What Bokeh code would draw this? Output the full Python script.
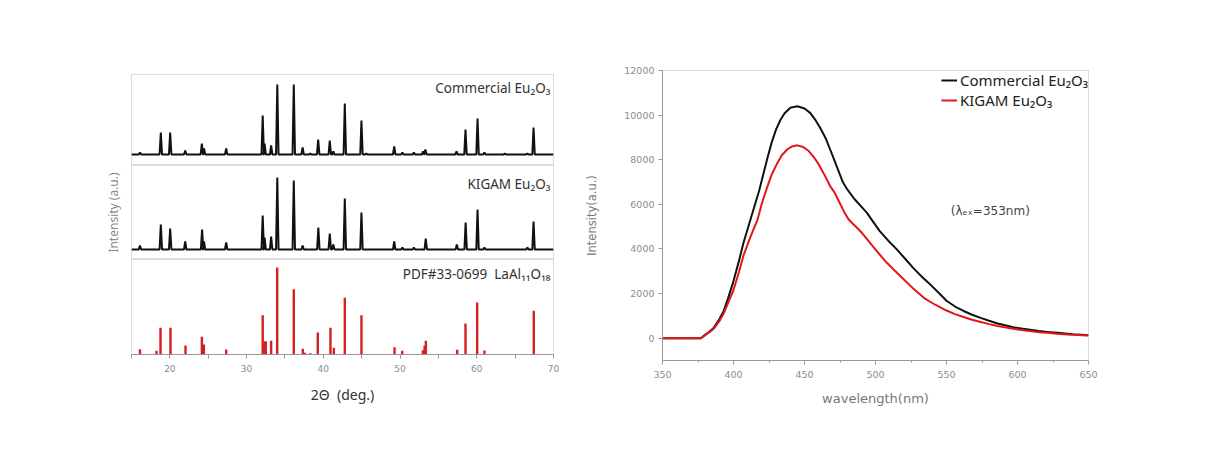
from bokeh.plotting import figure
from bokeh.layouts import row, column
from bokeh.models import Range1d, FixedTicker, Label, Legend, LegendItem
from bokeh.embed import file_html
from bokeh.resources import INLINE

# ---------------- XRD data (2theta, relative intensity) ----------------
comm_pos = [16.1, 18.82, 20.04, 22.0, 24.17, 24.45, 27.34, 32.1, 32.35, 33.2, 34.0, 36.15,
            37.3, 38.3, 39.33, 40.84, 41.3, 42.8, 44.97, 45.6, 49.24, 50.3, 51.8, 53.0,
            53.3, 57.36, 58.53, 60.1, 61.0, 63.65, 66.6, 67.4]
comm_int = [2, 22, 22, 4, 11, 6, 6, 39, 11, 9, 70, 70,
            7, 1, 15, 14, 3, 51, 34, 1, 8, 2, 2, 3,
            5, 3, 25, 36, 2, 1, 1, 27]

kigam_pos = [16.1, 18.82, 20.04, 22.0, 24.2, 24.45, 27.34, 32.1, 32.35, 33.2, 34.0, 36.15,
             37.3, 39.35, 40.84, 41.3, 42.8, 44.97, 49.24, 50.3, 51.8, 53.35, 57.4,
             58.55, 60.1, 61.0, 66.6, 67.4]
kigam_int = [4, 25, 21, 8, 20, 8, 7, 34, 12, 13, 72, 69,
             4, 22, 16, 5, 51, 37, 8, 2, 2, 11, 5,
             27, 40, 2, 2, 28]

pdf_pos = [16.1, 18.26, 18.78, 20.08, 22.04, 24.17, 24.43, 27.34, 32.1, 32.33, 32.5, 33.2,
           33.99, 36.15, 37.33, 37.6, 38.3, 39.28, 40.93, 41.37, 42.8, 44.97, 49.28, 50.28,
           52.97, 53.2, 53.36, 57.45, 58.53, 60.05, 61.0, 67.43]
pdf_int = [5.3, 3.7, 26.7, 26.7, 9, 17.7, 10, 5, 39.3, 13.3, 13, 13.7,
           87, 65.3, 5.7, 1.7, 1.3, 22, 26.7, 6.7, 56.7, 39.3, 7.3, 3.7,
           4.3, 8.7, 13.7, 4.7, 31, 52, 4, 43.7]

xrd_ticks = [20, 30, 40, 50, 60, 70]

# ---------------- PL data (wavelength nm, intensity a.u.) ----------------
wl_comm = [350, 377, 380, 383, 386, 390, 393, 396, 400, 404, 407, 412, 418, 421, 424, 427,
           430, 433, 436, 440, 445, 450, 454, 458, 461, 465, 468, 471, 474, 477, 480, 485,
           490, 494, 498, 503, 509, 515, 521, 527, 533, 539, 545, 550, 556, 562, 568, 574,
           580, 586, 592, 597, 604, 610, 615, 621, 628, 635, 642, 650]
pl_comm = [0, 0, 150, 290, 460, 850, 1210, 1750, 2560, 3500, 4270, 5330, 6600, 7350, 8100,
           8800, 9360, 9780, 10080, 10330, 10400, 10300, 10100, 9750, 9430, 8950, 8470,
           7980, 7490, 7000, 6680, 6250, 5900, 5620, 5250, 4800, 4370, 3980, 3550, 3120,
           2730, 2380, 2000, 1680, 1420, 1220, 1050, 910, 780, 660, 570, 490, 420, 370,
           320, 280, 240, 200, 160, 130]

wl_kigam = [350, 377, 380, 383, 386, 390, 393, 396, 400, 404, 407, 412, 417, 420, 424, 427,
            431, 434, 438, 441, 445, 449, 453, 457, 460, 464, 468, 471, 475, 478, 481, 484,
            487, 491, 496, 502, 508, 514, 520, 527, 534, 542, 550, 556, 562, 568, 574, 580,
            586, 592, 597, 604, 610, 615, 621, 628, 635, 642, 650]
pl_kigam = [0, 0, 140, 270, 420, 760, 1100, 1550, 2160, 3000, 3700, 4550, 5330, 6050, 6820,
            7350, 7870, 8200, 8470, 8590, 8645, 8570, 8390, 8080, 7790, 7330, 6820, 6550,
            6040, 5650, 5330, 5130, 4950, 4680, 4280, 3820, 3380, 3000, 2630, 2200, 1810,
            1500, 1240, 1080, 950, 830, 730, 630, 550, 480, 420, 360, 310, 270, 240, 200,
            170, 145, 120]

pl_xticks = [350, 400, 450, 500, 550, 600, 650]
pl_yticks = [0, 2000, 4000, 6000, 8000, 10000, 12000]


def profile(pos, inten, hw=0.16):
    pts = sorted(zip(pos, inten))
    xs, ys = [15.0], [0.0]
    for p_, h_ in pts:
        xs += [p_ - hw, p_, p_ + hw]
        ys += [0, h_, 0]
    xs.append(70.0)
    ys.append(0.0)
    return xs, ys


FONT = "Noto Sans"
OUT_C = "#b8b8b8"
AX_C = "#999999"
TICK_LAB_C = "#8c8c8c"
NB = "\u00a0"

xr = Range1d(15, 70)


def base_fig(height, yr, bl, bb, bt):
    f = figure(width=568, height=height, x_range=xr, y_range=yr,
               output_backend="svg", toolbar_location=None,
               min_border_left=bl, min_border_right=15,
               min_border_bottom=bb, min_border_top=bt)
    f.grid.visible = False
    f.outline_line_color = OUT_C
    f.outline_line_dash = "1 1"
    f.background_fill_color = "white"
    f.border_fill_color = "white"
    return f


# top panel
p1 = base_fig(165, Range1d(-11, 80), 131, 0, 74)
x1, y1 = profile(comm_pos, comm_int)
p1.line(x1, y1, line_color="#111111", line_width=2)
p1.xaxis.visible = False
p1.yaxis.visible = False
p1.add_layout(Label(x=69.6, y=67, text="Commercial Eu\u2082O\u2083", text_align="right",
                    text_baseline="middle", text_font=FONT, text_font_size="13.5px",
                    text_color="#333333"))

# middle panel
p2 = base_fig(94, Range1d(-10, 84), 131, 0, 0)
x2, y2 = profile(kigam_pos, kigam_int)
p2.line(x2, y2, line_color="#111111", line_width=2)
p2.xaxis.visible = False
p2.yaxis.ticker = FixedTicker(ticks=[])
p2.yaxis.axis_line_color = None
p2.yaxis.major_tick_line_color = None
p2.yaxis.minor_tick_line_color = None
p2.yaxis.axis_label = "Intensity (a.u.)"
p2.yaxis.axis_label_text_font = FONT
p2.yaxis.axis_label_text_font_style = "normal"
p2.yaxis.axis_label_text_font_size = "12px"
p2.yaxis.axis_label_text_color = "#8a8a8a"
p2.yaxis.axis_label_standoff = 10
p2.add_layout(Label(x=69.6, y=66, text="KIGAM Eu\u2082O\u2083", text_align="right",
                    text_baseline="middle", text_font=FONT, text_font_size="13.5px",
                    text_color="#333333"))

# bottom panel (reference sticks)
p3 = base_fig(182, Range1d(0, 95), 131, 87, 0)
p3.segment(x0=pdf_pos, y0=[0] * len(pdf_pos), x1=pdf_pos, y1=pdf_int,
           line_color="#d42020", line_width=2.4)
p3.yaxis.visible = False
p3.xaxis.ticker = FixedTicker(ticks=xrd_ticks, minor_ticks=[15, 25, 35, 45, 55, 65])
p3.xaxis.axis_line_color = AX_C
p3.xaxis.major_tick_line_color = AX_C
p3.xaxis.minor_tick_line_color = AX_C
p3.xaxis.major_tick_out = 4
p3.xaxis.major_tick_in = 0
p3.xaxis.minor_tick_out = 4
p3.xaxis.minor_tick_in = 0
p3.xaxis.major_label_text_font = "DejaVu Sans"
p3.xaxis.major_label_text_font_size = "9px"
p3.xaxis.major_label_text_color = TICK_LAB_C
p3.xaxis.major_label_standoff = 6
p3.xaxis.axis_label = "2\u0398" + NB + NB + "(deg.)"
p3.xaxis.axis_label_text_font = FONT
p3.xaxis.axis_label_text_font_style = "normal"
p3.xaxis.axis_label_text_font_size = "14px"
p3.xaxis.axis_label_text_color = "#333333"
p3.xaxis.axis_label_standoff = 10
p3.add_layout(Label(x=69.6, y=81, text="PDF#33-0699" + NB + NB + "LaAl\u2081\u2081O\u2081\u2088",
                    text_align="right", text_baseline="middle", text_font=FONT,
                    text_font_size="13.5px", text_color="#333333"))

left = column(p1, p2, p3, spacing=0)

# ---------------- right: PL spectra ----------------
p4 = figure(width=640, height=441, x_range=Range1d(350, 650), y_range=Range1d(-1000, 12000),
            output_backend="svg", toolbar_location=None,
            min_border_left=94, min_border_right=120, min_border_top=70, min_border_bottom=81)
p4.grid.visible = False
p4.outline_line_color = OUT_C
p4.outline_line_dash = "1 1"
r1 = p4.line(wl_comm, pl_comm, line_color="#111111", line_width=2, line_join="round")
r2 = p4.line(wl_kigam, pl_kigam, line_color="#e0161c", line_width=2, line_join="round")

for ax in (p4.xaxis, p4.yaxis):
    ax.axis_line_color = AX_C
    ax.major_tick_line_color = AX_C
    ax.minor_tick_line_color = AX_C
    ax.major_tick_out = 4
    ax.major_tick_in = 0
    ax.minor_tick_out = 2
    ax.minor_tick_in = 0
    ax.major_label_text_font = "DejaVu Sans"
    ax.major_label_text_font_size = "9.5px"
    ax.major_label_text_color = TICK_LAB_C
    ax.axis_label_text_font = "DejaVu Sans"
    ax.axis_label_text_font_style = "normal"
    ax.axis_label_text_color = "#777777"

p4.xaxis.ticker = FixedTicker(ticks=pl_xticks, minor_ticks=[375, 425, 475, 525, 575, 625])
p4.yaxis.ticker = FixedTicker(ticks=pl_yticks)
p4.xaxis.major_label_standoff = 6
p4.yaxis.major_label_standoff = 4
p4.xaxis.axis_label = "wavelength(nm)"
p4.xaxis.axis_label_text_font_size = "13px"
p4.xaxis.axis_label_standoff = 10
p4.yaxis.axis_label = "Intensity(a.u.)"
p4.yaxis.axis_label_text_font_size = "11.5px"
p4.yaxis.axis_label_standoff = 22

legend = Legend(items=[LegendItem(label="Commercial Eu\u2082O\u2083", renderers=[r1]),
                       LegendItem(label="KIGAM Eu\u2082O\u2083", renderers=[r2])],
                location="top_right", border_line_color=None, background_fill_alpha=0,
                label_text_font=FONT, label_text_font_size="15px", label_text_color="#222222",
                glyph_width=16, glyph_height=18, label_height=18, spacing=0,
                padding=5, margin=0, label_standoff=3)
p4.add_layout(legend)

p4.add_layout(Label(x=553, y=5700, text="(\u03bb\u2091\u2093=353nm)", text_baseline="middle",
                    text_font="DejaVu Sans", text_font_size="12px", text_color="#444444"))

layout = row(left, p4, spacing=0)

open("out.html", "w").write(file_html(layout, INLINE))
